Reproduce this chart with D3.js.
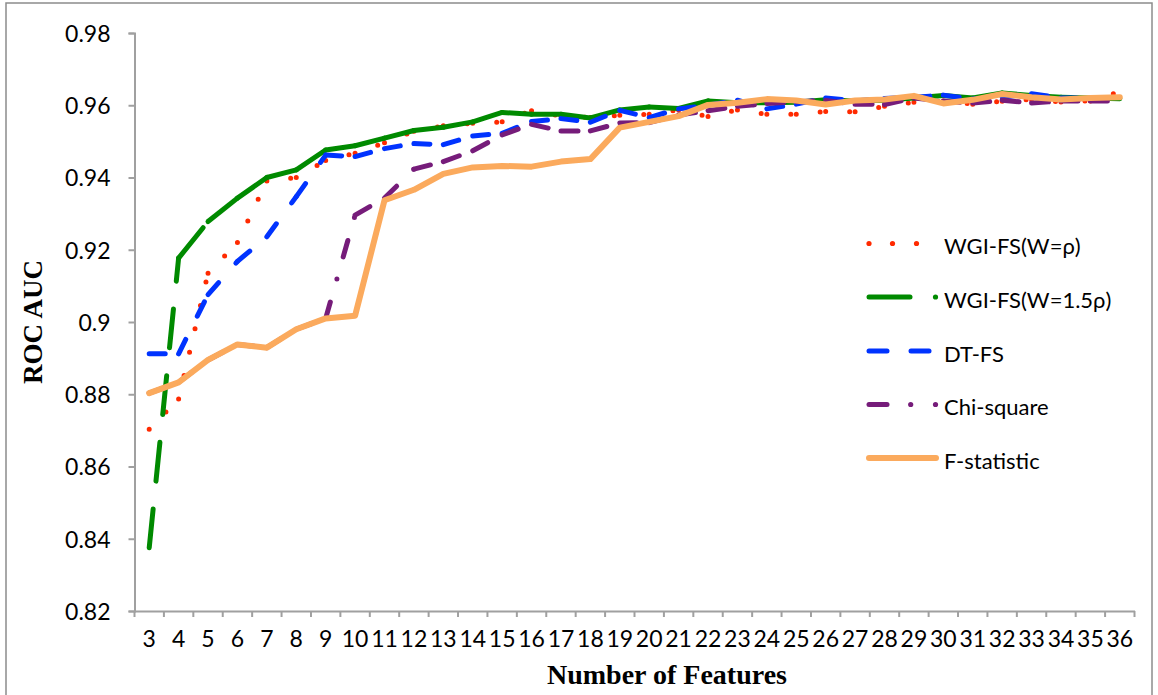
<!DOCTYPE html>
<html>
<head>
<meta charset="utf-8">
<script src="https://cdn.jsdelivr.net/npm/d3@7"></script>
<style>
  html, body { margin: 0; padding: 0; background: #fff; }
  svg { display: block; }
</style>
</head>
<body>
<svg id="chart" width="1158" height="695"></svg>
<script>
// ---- data ----
const categories = [3,4,5,6,7,8,9,10,11,12,13,14,15,16,17,18,19,20,21,22,23,24,25,26,27,28,29,30,31,32,33,34,35,36];
const yTickValues = [0.82,0.84,0.86,0.88,0.90,0.92,0.94,0.96,0.98];
const yTickLabels = ["0.82","0.84","0.86","0.88","0.9","0.92","0.94","0.96","0.98"];
const seriesNames = ["WGI-FS(W=\u03C1)", "WGI-FS(W=1.5\u03C1)", "DT-FS", "Chi-square", "F-statistic"];

const wgiRho = [0.8703,0.8787,0.9135,0.9220,0.9390,0.9400,0.9447,0.9467,0.9496,0.9528,0.9543,0.9550,0.9554,0.9585,0.9570,0.9566,0.9572,0.9575,0.9587,0.9569,0.9587,0.9575,0.9575,0.9583,0.9582,0.9597,0.9608,0.9612,0.9603,0.9611,0.9616,0.9609,0.9612,0.9637];
const wgi15Rho = [0.8375,0.9177,0.9278,0.9343,0.9400,0.9421,0.9476,0.9488,0.9509,0.9530,0.9539,0.9554,0.9580,0.9575,0.9575,0.9565,0.9587,0.9595,0.9591,0.9612,0.9607,0.9607,0.9608,0.9615,0.9612,0.9614,0.9620,0.9627,0.9620,0.9634,0.9627,0.9622,0.9620,0.9618];
const dtFs = [0.8912,0.8912,0.9076,0.9168,0.9236,0.9347,0.9462,0.9458,0.9480,0.9494,0.9491,0.9515,0.9522,0.9555,0.9563,0.9553,0.9586,0.9566,0.9590,0.9600,0.9614,0.9590,0.9603,0.9620,0.9612,0.9619,0.9622,0.9628,0.9617,0.9622,0.9632,0.9620,0.9620,0.9620];
const chiSquare = [0.8803,0.8833,0.8895,0.8938,0.8929,0.8980,0.9010,0.9296,0.9343,0.9423,0.9444,0.9474,0.9518,0.9547,0.9529,0.9529,0.9551,0.9552,0.9573,0.9585,0.9597,0.9605,0.9610,0.9613,0.9603,0.9602,0.9620,0.9612,0.9606,0.9614,0.9606,0.9612,0.9612,0.9612];
const fStatistic = [0.8803,0.8833,0.8895,0.8938,0.8929,0.8980,0.9010,0.9017,0.9337,0.9366,0.9410,0.9428,0.9432,0.9430,0.9444,0.9451,0.9538,0.9554,0.9570,0.9601,0.9607,0.9617,0.9613,0.9602,0.9613,0.9616,0.9626,0.9605,0.9615,0.9631,0.9622,0.9616,0.9620,0.9622];

// ---- layout ----
const svg = d3.select("#chart");
const plotLeft = 134.5, plotRight = 1134.5, plotTop = 33, plotBottom = 611;

const x = d3.scaleBand().domain(categories).range([plotLeft, plotRight]).padding(0);
const y = d3.scaleLinear().domain([0.82, 0.98]).range([plotBottom, plotTop]);

const labelFont = "Lato, 'Open Sans', sans-serif";
const axisColor = "#a0a0a0";

// outer frame
svg.append("rect")
  .attr("x", 6).attr("y", 3).attr("width", 1146).attr("height", 720)
  .attr("fill", "none").attr("stroke", "#8c8c8c").attr("stroke-width", 1.5);

// y axis
const yAxis = svg.append("g")
  .attr("transform", `translate(${plotLeft},0)`)
  .call(d3.axisLeft(y).tickValues(yTickValues)
        .tickFormat((d, i) => yTickLabels[i]).tickSize(6).tickPadding(18));
yAxis.select(".domain").attr("stroke", axisColor).attr("stroke-width", 2);
yAxis.selectAll(".tick line").attr("stroke", axisColor).attr("stroke-width", 2);
yAxis.selectAll(".tick text")
  .attr("font-family", labelFont).attr("font-size", 23).attr("fill", "#000")
  .attr("dy", "0.36em");

// x axis (labels centred in bands, ticks on band boundaries)
const xAxis = svg.append("g")
  .attr("transform", `translate(0,${plotBottom})`)
  .call(d3.axisBottom(x).tickSize(0).tickPadding(28));
xAxis.select(".domain").attr("stroke", axisColor).attr("stroke-width", 2);
xAxis.selectAll(".tick text")
  .attr("font-family", labelFont).attr("font-size", 23).attr("fill", "#000")
  .attr("dy", "0.36em");
const boundaries = categories.map(c => x(c)).concat([x(categories[categories.length - 1]) + x.bandwidth()]);
xAxis.selectAll("line.bound").data(boundaries).enter().append("line")
  .attr("class", "bound")
  .attr("x1", d => d).attr("x2", d => d).attr("y1", 0).attr("y2", 6)
  .attr("stroke", axisColor).attr("stroke-width", 2);

// axis titles
svg.append("text")
  .attr("x", 667).attr("y", 684)
  .attr("text-anchor", "middle")
  .attr("font-family", "'Liberation Serif', 'Times New Roman', serif")
  .attr("font-weight", "bold").attr("font-size", 28).attr("fill", "#000")
  .text("Number of Features");
svg.append("text")
  .attr("transform", `translate(42,${y(0.9)}) rotate(-90)`)
  .attr("text-anchor", "middle")
  .attr("font-family", "'Liberation Serif', 'Times New Roman', serif")
  .attr("font-weight", "bold").attr("font-size", 27).attr("fill", "#000")
  .text("ROC AUC");

// ---- series ----
const series = [
  { name: seriesNames[0], values: wgiRho,     color: "#ff2a00", width: 5, dash: "0 24" },
  { name: seriesNames[1], values: wgi15Rho,   color: "#008a00", width: 5, dash: "39 28" },
  { name: seriesNames[2], values: dtFs,       color: "#0033ff", width: 5, dash: "16 26" },
  { name: seriesNames[3], values: chiSquare,  color: "#761c7a", width: 5, dash: "17 24 0 23" },
  { name: seriesNames[4], values: fStatistic, color: "#fbaa5d", width: 6, dash: null }
];

const line = d3.line().x(d => x(d[0]) + x.bandwidth() / 2).y(d => y(d[1]));

series.forEach(s => {
  const pts = categories.map((c, i) => [c, s.values[i]]);
  const g = svg.append("g");
  if (s.dash) {
    // Excel restarts the dash pattern on each segment
    const segs = d3.pairs(pts);
    g.selectAll("path").data(segs).enter().append("path")
      .attr("d", d => line(d))
      .attr("fill", "none").attr("stroke", s.color).attr("stroke-width", s.width)
      .attr("stroke-linecap", "round").attr("stroke-dasharray", s.dash);
  } else {
    g.append("path").attr("d", line(pts))
      .attr("fill", "none").attr("stroke", s.color).attr("stroke-width", s.width)
      .attr("stroke-linecap", "round").attr("stroke-linejoin", "round");
  }
});

// ---- legend ----
const legendY = [243.5, 297, 351, 404.5, 458];
const lg = svg.append("g");
const capStyle = sel => sel.attr("stroke-linecap", "round").attr("fill", "none");
// WGI-FS(W=rho): three dots
[869, 892.5, 916.5].forEach(cx => lg.append("circle").attr("cx", cx).attr("cy", legendY[0]).attr("r", 2.6).attr("fill", series[0].color));
// WGI-FS(W=1.5rho): long dash + dot
lg.append("line").attr("x1", 869).attr("x2", 910).attr("y1", legendY[1]).attr("y2", legendY[1])
  .attr("stroke", series[1].color).attr("stroke-width", 5).call(capStyle);
lg.append("circle").attr("cx", 935.5).attr("cy", legendY[1]).attr("r", 2.6).attr("fill", series[1].color);
// DT-FS: two dashes
[[869, 887], [911, 929]].forEach(([a, b]) => lg.append("line").attr("x1", a).attr("x2", b)
  .attr("y1", legendY[2]).attr("y2", legendY[2]).attr("stroke", series[2].color).attr("stroke-width", 5).call(capStyle));
// Chi-square: dash + two dots
lg.append("line").attr("x1", 869).attr("x2", 887).attr("y1", legendY[3]).attr("y2", legendY[3])
  .attr("stroke", series[3].color).attr("stroke-width", 5).call(capStyle);
[910.7, 935.5].forEach(cx => lg.append("circle").attr("cx", cx).attr("cy", legendY[3]).attr("r", 2.6).attr("fill", series[3].color));
// F-statistic: solid
lg.append("line").attr("x1", 869).attr("x2", 936).attr("y1", legendY[4]).attr("y2", legendY[4])
  .attr("stroke", series[4].color).attr("stroke-width", 6).call(capStyle);

seriesNames.forEach((n, i) => {
  lg.append("text").attr("x", 944).attr("y", legendY[i] + 3).attr("dy", "0.36em")
    .attr("font-family", labelFont).attr("font-size", 22).attr("fill", "#000").text(n);
});
</script>
</body>
</html>
